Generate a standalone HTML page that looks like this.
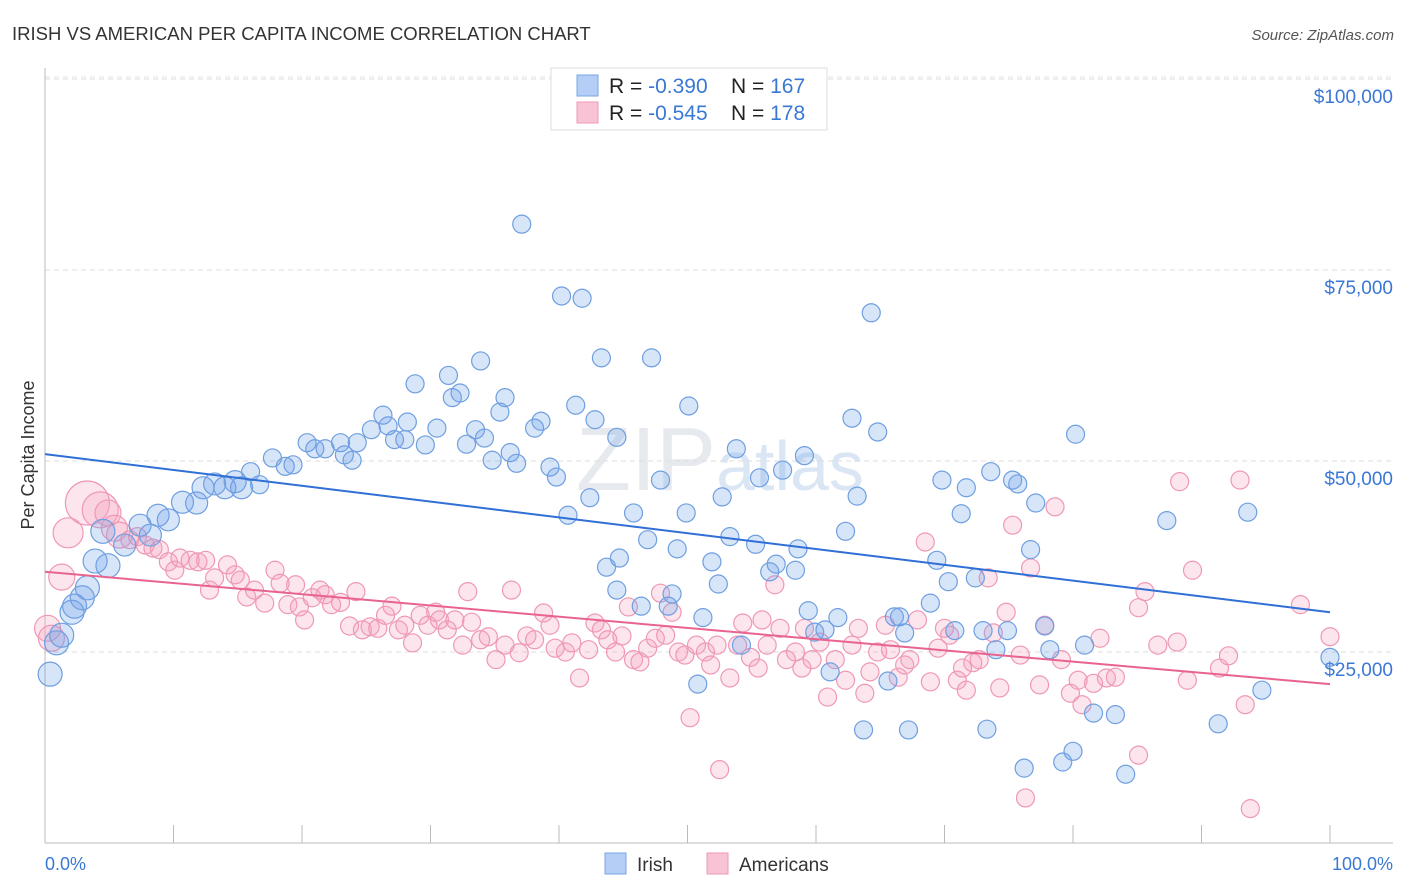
<!DOCTYPE html>
<html><head><meta charset="utf-8"><style>
body{margin:0;background:#fff;font-family:"Liberation Sans",sans-serif;}
#wrap{position:relative;width:1406px;height:892px;overflow:hidden;}
svg text{font-family:"Liberation Sans",sans-serif;}
</style></head><body>
<div id="wrap">
<svg id="chart" width="1406" height="892" xmlns="http://www.w3.org/2000/svg">
<text x="12" y="40" font-size="18.5" fill="#333">IRISH VS AMERICAN PER CAPITA INCOME CORRELATION CHART</text>
<text x="1394" y="40" font-size="15" fill="#555" font-style="italic" text-anchor="end">Source: ZipAtlas.com</text>
<text x="720" y="490" font-size="90" fill="#e6e9ee" text-anchor="middle" font-family="Liberation Serif">ZIP<tspan fill="#dbe6f5" font-family="Liberation Sans" font-size="70">atlas</tspan></text>
<text transform="translate(34,455) rotate(-90)" font-size="18" fill="#333" text-anchor="middle">Per Capita Income</text>
<g id="grid"></g><g id="axes"></g><g id="pts"></g><g id="lines"></g>
<g>
<rect x="551" y="68" width="276" height="62" fill="#fff" stroke="#ddd"/>
<rect x="577" y="75" width="21" height="21" fill="#b4cef5" stroke="#7aa6e6"/>
<rect x="577" y="102" width="21" height="21" fill="#f8c3d4" stroke="#ee9ab6"/>
<text x="609" y="93" font-size="21" fill="#222">R = <tspan fill="#3a78d4">-0.390</tspan><tspan x="731">N = </tspan><tspan fill="#3a78d4">167</tspan></text>
<text x="609" y="120" font-size="21" fill="#222">R = <tspan fill="#3a78d4">-0.545</tspan><tspan x="731">N = </tspan><tspan fill="#3a78d4">178</tspan></text>
</g>
<g>
<rect x="605" y="853" width="21" height="21" fill="#b4cef5" stroke="#7aa6e6"/>
<text x="637" y="871" font-size="19" fill="#333">Irish</text>
<rect x="707" y="853" width="21" height="21" fill="#f8c3d4" stroke="#ee9ab6"/>
<text x="739" y="871" font-size="19" fill="#333">Americans</text>
</g>
<text x="45" y="870" font-size="18" fill="#3a78d4">0.0%</text>
<text x="1393" y="870" font-size="18" fill="#3a78d4" text-anchor="end">100.0%</text>
</svg></div>
<script>
const yTicks=[25000,50000,75000,100000];
const yTickLabels=["$25,000","$50,000","$75,000","$100,000"];
const irishX=[0.4,0.9,1.3,2.1,2.3,2.9,3.3,3.9,4.9,4.5,6.2,7.4,8.2,8.8,9.6,10.7,11.8,12.3,13.2,14.0,14.8,15.3,16.0,16.7,17.7,18.7,19.3,20.4,21.0,21.8,23.0,23.3,23.9,24.3,25.4,26.3,26.7,27.2,28.0,28.2,28.8,29.6,30.5,31.4,31.7,32.3,32.8,33.5,33.9,34.2,34.8,35.4,35.8,36.2,36.7,37.1,38.1,38.6,39.3,39.8,40.2,40.7,41.3,41.8,42.4,42.8,43.3,43.7,44.5,44.7,44.5,45.8,46.4,46.9,47.2,47.9,48.5,48.8,49.2,49.9,50.1,50.8,51.2,51.9,52.4,52.7,53.3,53.8,54.2,55.3,55.6,56.4,56.9,57.4,58.4,58.6,59.1,59.4,59.9,60.7,61.1,61.7,62.3,62.8,63.2,63.7,64.3,64.8,65.6,66.1,66.5,66.9,67.2,68.9,69.4,69.8,70.3,70.8,71.3,71.7,72.4,73.0,73.3,73.6,74.0,74.9,75.3,75.7,76.2,76.7,77.1,77.8,78.2,79.2,80.0,80.2,80.9,81.6,83.3,84.1,87.3,91.3,93.6,94.7,100];
const irishV=[22.1,26.2,27.2,30.2,31.0,32.1,33.4,36.9,36.3,40.8,39.0,41.6,40.3,42.9,42.3,44.6,44.5,46.5,47.0,46.5,47.3,46.5,48.6,46.9,50.4,49.3,49.5,52.4,51.6,51.6,52.4,50.8,50.1,52.4,54.1,56.0,54.6,52.8,52.8,55.1,60.1,52.1,54.3,61.2,58.3,58.9,52.2,54.1,63.1,53.0,50.1,56.4,58.3,51.1,49.7,81.0,54.3,55.2,49.2,47.9,71.6,42.9,57.3,71.3,45.2,55.4,63.5,36.1,53.1,37.3,33.1,43.2,31.0,39.7,63.5,47.5,31.0,32.6,38.5,43.2,57.2,20.8,29.5,36.8,33.9,45.3,40.1,51.6,25.9,39.1,47.8,35.5,36.5,48.8,35.7,38.5,50.7,30.4,27.6,27.9,22.4,29.5,40.8,55.6,45.4,14.8,69.4,53.8,21.2,29.6,29.6,27.5,14.8,31.4,37.0,47.5,34.2,27.8,43.1,46.5,34.7,27.8,14.9,48.6,25.3,27.8,47.5,47.0,9.8,38.4,44.5,28.4,25.3,10.6,12.0,53.5,25.9,17.0,16.8,9.0,42.2,15.6,43.3,20.0,24.3];
const amerX=[0.2,0.5,1.3,1.8,3.3,4.3,4.9,5.4,5.8,6.6,7.2,7.8,8.4,8.9,9.6,10.1,10.5,11.3,11.9,12.5,12.8,13.2,14.2,14.8,15.2,15.7,16.3,17.1,17.9,18.3,18.9,19.5,19.8,20.2,20.8,21.4,21.8,22.3,23.0,23.7,24.2,24.7,25.3,25.9,26.5,27.0,27.5,28.0,28.6,29.2,29.8,30.4,30.7,31.3,31.9,32.5,32.9,33.2,33.9,34.5,35.1,35.8,36.3,36.9,37.5,38.1,38.8,39.3,39.7,40.5,41.0,41.6,42.3,42.8,43.3,43.8,44.4,44.9,45.4,45.8,46.3,46.9,47.5,47.9,48.3,48.8,49.3,49.8,50.2,50.7,51.4,51.8,52.3,52.5,53.3,53.9,54.3,54.9,55.5,55.8,56.2,56.8,57.2,57.7,58.4,58.9,59.1,59.7,60.3,60.9,61.5,62.3,62.8,63.3,63.8,64.2,64.8,65.4,65.8,66.4,66.9,67.3,67.9,68.5,68.9,69.5,70.0,70.4,71.0,71.4,71.7,72.2,72.7,73.4,73.8,74.3,74.8,75.3,75.9,76.3,76.7,77.4,77.8,78.6,79.1,79.8,80.4,80.7,81.6,82.1,82.6,83.3,85.1,85.1,85.6,86.6,88.1,88.3,88.9,89.3,91.4,92.1,93.0,93.4,93.8,97.7,100];
const amerV=[28.1,26.8,34.8,40.6,44.5,43.6,43.2,41.2,40.3,39.7,40.1,39.0,38.6,38.4,36.8,35.7,37.3,37.0,36.8,37.0,33.1,34.7,36.4,35.1,34.4,32.2,33.1,31.4,35.7,34.0,31.2,33.8,30.9,29.2,32.1,33.1,32.5,31.2,31.5,28.4,32.9,27.9,28.3,28.1,29.8,31.0,27.9,28.5,26.2,29.8,28.5,30.2,29.2,27.9,29.2,25.9,32.9,28.9,26.6,27.0,24.0,25.9,33.1,24.9,27.1,26.6,30.1,28.5,25.5,25.0,26.2,21.6,25.3,28.8,27.9,26.6,25.0,27.1,30.9,24.0,23.7,25.5,26.8,32.7,27.2,30.2,25.0,24.6,16.4,25.9,25.0,23.3,25.9,9.6,21.6,25.9,28.8,24.3,22.9,29.2,25.9,33.8,28.1,24.0,25.0,22.9,28.1,24.0,26.3,19.1,24.0,21.3,25.9,28.1,19.6,22.4,25.0,28.5,25.3,21.7,23.3,24.0,29.2,39.4,21.1,25.5,28.1,27.2,21.3,22.9,20.0,23.6,24.0,34.7,27.5,20.3,30.2,41.6,24.6,5.9,36.0,20.7,28.5,44.0,24.0,19.6,21.3,18.1,20.9,26.8,21.6,21.7,30.8,11.5,32.9,25.9,26.3,47.3,21.3,35.7,22.9,24.5,47.5,18.1,4.5,31.2,27.0];
const irishTrend=[50.9,30.2];
const amerTrend=[35.5,20.8];

const NS="http://www.w3.org/2000/svg";
const X0=45,X1=1330,Y0=843,PX=191/25000;
const sx=p=>X0+(X1-X0)*p/100;
const sy=v=>Y0-v*PX;
function mk(tag,attrs,parent){const e=document.createElementNS(NS,tag);for(const k in attrs)e.setAttribute(k,attrs[k]);parent.appendChild(e);return e;}
const grid=document.getElementById('grid'),axes=document.getElementById('axes'),pts=document.getElementById('pts'),lines=document.getElementById('lines');
yTicks.forEach((t,i)=>{
 const g=mk('line',{x1:X0,x2:1393,y1:sy(t),y2:sy(t),stroke:'#ddd','stroke-dasharray':'5,4'},grid);
 
 
 const tx=mk('text',{x:1393,y:sy(t)+24,'font-size':19,fill:'#3a78d4','text-anchor':'end'},grid);
 tx.textContent=yTickLabels[i];
 
 
});
mk('line',{x1:X0,x2:1393,y1:sy(100000)-2,y2:sy(100000)-2,stroke:'#e4e4e4','stroke-dasharray':'5,4'},grid);
mk('line',{x1:X0,x2:X0,y1:68,y2:Y0,stroke:'#bbb'},axes);
mk('line',{x1:X0,x2:1393,y1:Y0,y2:Y0,stroke:'#bbb'},axes);
for(let i=0;i<=10;i++){const t=mk('line',{x1:sx(i*10),x2:sx(i*10),y1:825,y2:Y0,stroke:'#bbb'},axes);
 
 }
function series(xs,vs,fill,stroke,name,rf){
 xs.forEach((x,i)=>{const c=mk('circle',{cx:sx(x),cy:sy(vs[i]*1000),r:rf(x,i),fill:fill,stroke:stroke,'stroke-width':1.2},pts);
  
  });
}
series(amerX,amerV,'rgba(244,160,190,0.28)','#ef98b6','americans-point',(x,i)=>i===4?22:i===5?18:i===3?15:x<6?13:9);
series(irishX,irishV,'rgba(110,160,235,0.28)','#6f9fe0','irish-point',(x)=>x<5?12:x<16?11:9);
const l1=mk('line',{x1:sx(0),y1:sy(irishTrend[0]*1000),x2:sx(100),y2:sy(irishTrend[1]*1000),stroke:'#2f6fd6','stroke-width':2},lines);


const l2=mk('line',{x1:sx(0),y1:sy(amerTrend[0]*1000),x2:sx(100),y2:sy(amerTrend[1]*1000),stroke:'#e8648f','stroke-width':2},lines);


</script>
</body></html>
